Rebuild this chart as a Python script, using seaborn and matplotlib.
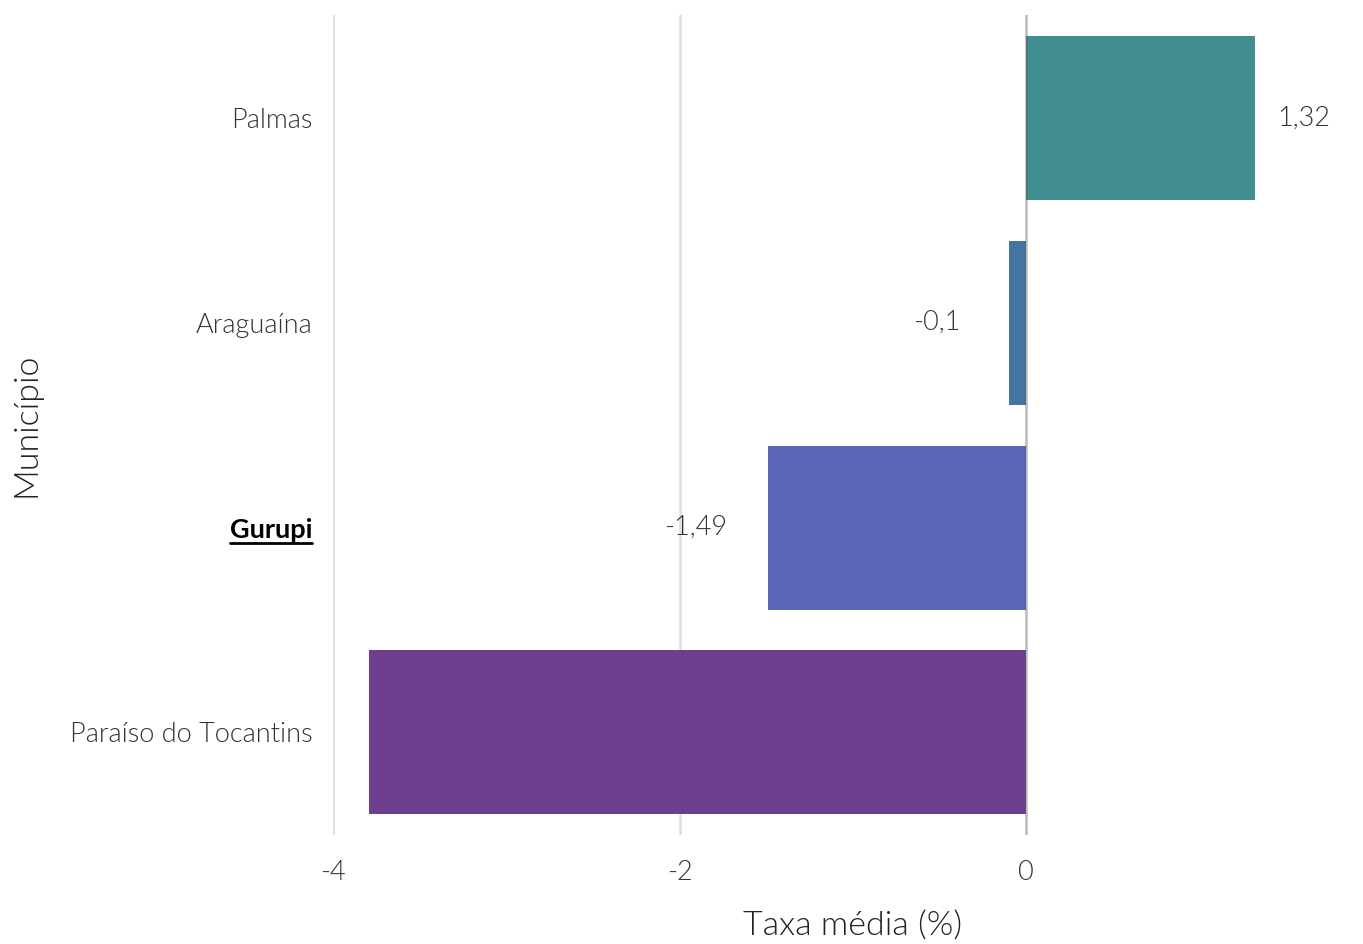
import numpy as np
import pandas as pd
import matplotlib
matplotlib.use("Agg")
import matplotlib.pyplot as plt
import seaborn as sns
from matplotlib.lines import Line2D

municipios = ["Palmas", "Araguaína", "Gurupi", "Paraíso do Tocantins"]
taxas = [1.32, -0.10, -1.49, -3.79]
cores = ["#408E90", "#4375A0", "#5B64B6", "#6E3E8F"]
destaque = "Gurupi"
ticks_x = [-4, -2, 0]

df = pd.DataFrame({"Município": municipios, "Taxa média (%)": taxas})

sns.set_style("white")
plt.rcParams["font.family"] = ["Lato", "DejaVu Sans"]
plt.rcParams["font.weight"] = 300
plt.rcParams["axes.labelweight"] = 300

fig = plt.figure(figsize=(13.63, 9.44), dpi=100)
# axes runs a bit past the right edge, so the x label sits where the original has it
ax = fig.add_axes([0.2443, 0.1155, 0.763, 0.8685])

sns.barplot(data=df, y="Município", x="Taxa média (%)", hue="Município",
            palette=cores, orient="h", width=0.8, legend=False,
            saturation=1, linewidth=0, ax=ax)

ax.set_xlim(-4, 2.0)
ax.set_ylim(3.5, -0.5)
ax.set_xticks(ticks_x)
ax.set_xticklabels([str(t) for t in ticks_x])
for t in ticks_x:
    if t == 0:
        ax.axvline(t, color="#555555", alpha=0.4, lw=1.8, zorder=3)
    else:
        ax.axvline(t, color="#dddddd", lw=1.8, zorder=0)

sns.despine(ax=ax, left=True, bottom=True)
ax.tick_params(axis="both", length=0, labelsize=19.5, labelcolor="#333333")
ax.tick_params(axis="x", pad=18)
ax.tick_params(axis="y", pad=15)
for lab in ax.get_xticklabels() + ax.get_yticklabels():
    lab.set_fontweight(300)

ax.set_xlabel("Taxa média (%)", fontsize=24.5, color="#222222", labelpad=19,
              fontweight=300)
ax.set_ylabel("Município", fontsize=24.5, color="#222222", labelpad=20,
              fontweight=300)

for i, v in enumerate(taxas):
    if v < -3.5:
        continue
    txt = f"{v:g}".replace(".", ",")
    dx = 49 if v >= 0 else -72
    ax.annotate(txt, (v, i), xytext=(dx, 0), textcoords="offset pixels",
                ha="center", va="center", fontsize=19.5, color="#333333",
                fontweight=300)

for lab in ax.get_yticklabels():
    if lab.get_text() == destaque:
        lab.set_fontweight("bold")
        lab.set_color("black")

fig.canvas.draw()
renderer = fig.canvas.get_renderer()
for lab in ax.get_yticklabels():
    if lab.get_text() == destaque:
        bb = lab.get_window_extent(renderer).transformed(fig.transFigure.inverted())
        y0 = bb.y0 - 1 / fig.bbox.height
        fig.add_artist(Line2D([bb.x0, bb.x1], [y0, y0], color="black", lw=2))

fig.savefig("out.png", dpi=100)
